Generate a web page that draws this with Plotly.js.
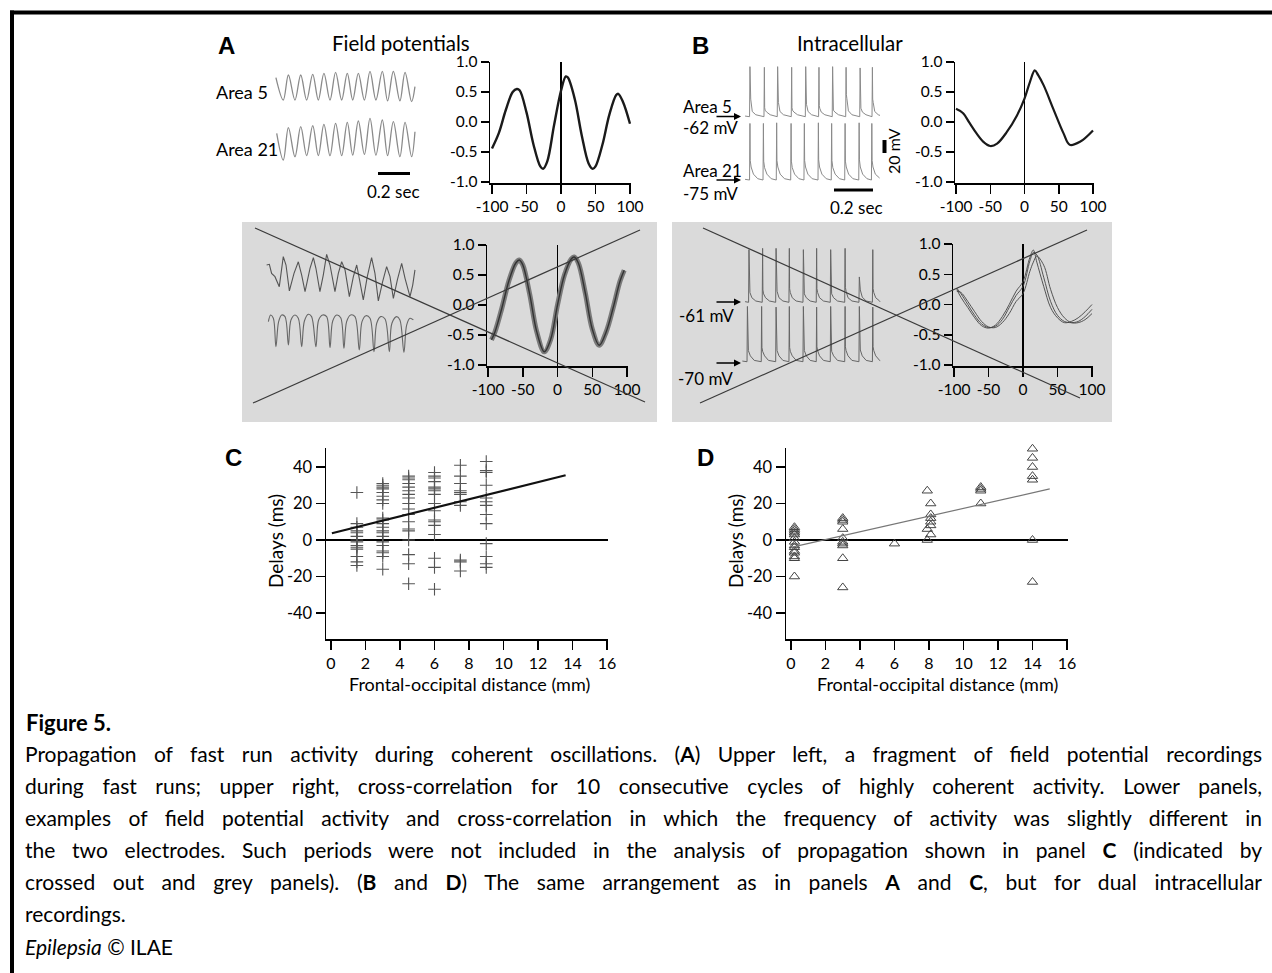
<!DOCTYPE html>
<html><head><meta charset="utf-8">
<script src="https://cdn.plot.ly/plotly-3.0.1.min.js"></script>
<style>html,body{margin:0;padding:0;background:#fff;}#chart{width:1272px;height:973px;}</style>
</head><body><div id="chart"></div>
<script>
// ---------------- DATA ----------------
// A (top): field potentials, time in ms, amplitude in arbitrary units
const fpArea5Time  = [37, 83, 115, 156, 192, 229, 267, 302, 337, 375, 410, 448, 483, 517, 552, 590, 625, 662, 702, 735, 771, 812, 844, 885, 906];
const fpArea5      = [0.68, -1.0, 0.88, -1.0, 0.88, -1.0, 0.93, -1.0, 1.0, -1.0, 1.08, -1.0, 1.0, -1.0, 1.0, -1.0, 1.15, -1.0, 1.15, -1.07, 1.15, -1.07, 1.08, -1.12, 0.0];
const fpArea21Time = [42, 83, 115, 156, 192, 229, 267, 302, 337, 375, 410, 448, 483, 517, 552, 590, 625, 662, 702, 735, 771, 812, 844, 885, 906];
const fpArea21     = [0.53, -1.31, 0.92, -1.08, 0.99, -1.01, 1.06, -1.01, 1.15, -1.01, 1.22, -1.01, 1.29, -0.97, 1.38, -0.92, 1.56, -0.97, 1.45, -1.01, 1.33, -1.08, 1.29, -1.08, 0.64];
// A (top): cross-correlation
const xcA_lag = [-100,-90,-80,-70,-64,-60,-50,-40,-30,-26,-20,-10,0,7,10,20,30,40,46,50,60,70,80,83,90,100];
const xcA_r   = [-0.44,-0.18,0.2,0.5,0.55,0.53,0.16,-0.37,-0.74,-0.78,-0.66,-0.05,0.52,0.76,0.74,0.38,-0.22,-0.69,-0.78,-0.74,-0.38,0.12,0.45,0.47,0.33,-0.03];

// B (top): intracellular, time in ms, membrane potential in mV
const icArea5Time = [26, 49,51,52.5,55,63,81, 123,125,126.5,129,137,155, 191,193,194.5,197,205,223, 263,265,266.5,269,277,295, 335,337,338.5,341,349,367, 403,405,406.5,409,417,435, 473,475,476.5,479,487,505, 542,544,545.5,548,556,574, 614,616,617.5,620,628,646, 677,679,680.5,683,691,709, 718];
const icArea5     = [-61, -62,15,-30,-35,-54,-59, -62,14,-48,-52,-55,-59, -62,15,-35,-40,-54,-59, -62,14,-48,-52,-55,-59, -62,15,-38,-43,-54,-59, -62,14,-45,-49,-55,-59, -62,15,-48,-52,-55,-59, -62,14,-28,-34,-53,-59, -62,13,-45,-49,-55,-59, -62,14,-35,-40,-54,-59, -60];
const icArea21Time = [26, 49,51,52.5,57,69,91, 118,120,121.5,126,138,160, 186,188,189.5,194,206,228, 260,262,263.5,268,280,302, 328,330,331.5,336,348,370, 400,402,403.5,408,420,442, 468,470,471.5,476,488,510, 537,539,540.5,545,557,579, 609,611,612.5,617,629,651, 674,676,677.5,682,694,716];
const icArea21     = [-74, -75,12,-45,-55,-66,-73, -75,12,-46,-56,-66,-73, -75,13,-45,-55,-66,-73, -75,12,-46,-56,-66,-73, -75,12,-45,-55,-66,-73, -75,13,-44,-55,-66,-73, -75,12,-45,-56,-66,-73, -75,12,-46,-55,-66,-73, -75,13,-44,-55,-66,-73, -75,12,-45,-55,-66,-72];
// B (top): cross-correlation
const xcB_lag = [-100,-90,-80,-70,-60,-50,-40,-26,-11,0,8,15,20,28,42,57,66,81,100];
const xcB_r   = [0.22,0.15,-0.02,-0.19,-0.33,-0.40,-0.36,-0.17,0.11,0.39,0.67,0.86,0.78,0.61,0.22,-0.19,-0.38,-0.33,-0.14];

// A (grey, excluded): field potentials
const gFpUpperTime = [29,46,60,81,108,133,150,171,200,227,248,269,300,321,337,362,383,404,425,456,477,498,519,546,571,592,608,633,658,685,706,727,754,779,800,821,846,873,894,925,942,956];
const gFpUpper     = [0.57,0.6,0.21,0.07,-0.36,0.93,0.57,-0.54,0.21,0.71,0.14,-0.57,0.43,0.89,0.43,-0.57,0.14,1.03,0.57,-0.57,0.21,0.71,0.36,-0.79,0.07,0.57,0.0,-0.93,0.07,0.89,0.21,-0.97,-0.14,0.5,0.07,-0.86,-0.07,0.64,0.0,-0.79,-0.29,0.36];
const gFpLowerTime = [40,54,71,87,104,123,144,165,181,206,227,248,265,290,310,337,354,379,404,425,442,467,492,512,529,554,581,608,625,650,675,700,717,742,769,796,812,842,862,887,904,925,946];
const gFpLower     = [0.64,1.0,0.82,-0.73,0.64,1.0,0.91,-0.64,0.73,1.0,0.82,-0.73,0.67,1.04,0.91,-0.73,0.73,1.0,0.91,-0.78,0.67,1.0,0.85,-0.82,0.64,1.0,0.91,-0.91,0.64,0.96,0.82,-1.0,0.55,0.91,0.78,-1.0,0.55,0.91,0.73,-1.04,0.45,0.82,0.73];
const gXcA_lag = [-95,-90,-80,-70,-60,-55,-50,-40,-30,-19,-10,0,10,20,24,30,40,50,60,70,80,90,96];
const gXcA_r   = [-0.58,-0.45,-0.05,0.40,0.70,0.75,0.67,0.18,-0.44,-0.78,-0.58,0.0,0.5,0.77,0.8,0.7,0.2,-0.4,-0.67,-0.45,-0.05,0.4,0.58];

// B (grey, excluded): intracellular
const gIcUpperTime = [26, 44,46,47.5,51,61,81, 114,116,117.5,121,131,151, 183,185,186.5,190,200,220, 251,253,254.5,258,268,288, 323,325,326.5,330,340,360, 391,393,394.5,398,408,428, 463,465,466.5,470,480,500, 537,539,540.5,544,554,574, 610,612,613.5,617,627,647, 679,681,682.5,686,696,716, 718];
const gIcUpper     = [-60, -61,20,-40,-46,-54,-59, -61,22,-42,-48,-54,-59, -61,22,-38,-44,-54,-59, -61,22,-40,-46,-54,-59, -61,20,-42,-48,-54,-59, -61,22,-40,-46,-54,-59, -61,20,-42,-48,-54,-59, -61,22,-38,-44,-54,-59, -61,-22,-36,-42,-53,-59, -61,20,-40,-46,-54,-59, -60];
const gIcLowerTime = [12, 36,38,39.5,43,53,73, 109,111,112.5,116,126,146, 183,185,186.5,190,200,220, 251,253,254.5,258,268,288, 323,325,326.5,330,340,360, 391,393,394.5,398,408,428, 463,465,466.5,470,480,500, 537,539,540.5,544,554,574, 610,612,613.5,617,627,647, 679,681,682.5,686,696,716, 718];
const gIcLower     = [-69, -70,15,-47,-53,-61,-68, -70,15,-48,-54,-61,-68, -70,14,-47,-53,-61,-68, -70,15,-48,-54,-61,-68, -70,15,-47,-53,-61,-68, -70,14,-47,-53,-61,-68, -70,15,-48,-54,-61,-68, -70,15,-47,-53,-61,-68, -70,15,-45,-52,-61,-68, -70,14,-47,-53,-61,-68, -69];
const gXcB_lag = [-96,-90,-80,-70,-60,-50,-40,-30,-20,-10,0,10,15,20,30,40,50,60,70,80,90,100];
const gXcB_r1  = [0.27,0.18,0.0,-0.18,-0.32,-0.38,-0.36,-0.25,-0.05,0.15,0.30,0.72,0.86,0.82,0.45,0.05,-0.18,-0.28,-0.30,-0.28,-0.2,-0.08];
const gXcB_r2  = [0.22,0.2,0.05,-0.12,-0.28,-0.37,-0.38,-0.3,-0.15,0.05,0.18,0.55,0.7,0.8,0.65,0.25,-0.05,-0.22,-0.3,-0.3,-0.25,-0.15];
const gXcB_r3  = [0.25,0.12,-0.05,-0.22,-0.35,-0.39,-0.34,-0.2,0.0,0.22,0.38,0.78,0.9,0.7,0.3,-0.05,-0.22,-0.3,-0.28,-0.22,-0.12,0.0];

// C: delays (ms) by frontal-occipital distance (mm), field potentials
const cDistances = [1.5, 3, 4.5, 6, 7.5, 9];
const cAt1_5 = [26, 9, 7, 5, 4, 2, 0, -1, -3, -4, -5, -9, -12, -14];
const cAt3   = [31, 30, 29, 28, 26, 24, 22, 20, 12, 11, 9, 7, 5, 4, 2, -1, -3, -6, -7, -9, -16];
const cAt4_5 = [35, 34, 33, 31, 29, 27, 25, 23, 20, 17, 14, 10, 6, 5, 0, -8, -13, -24];
const cAt6   = [37, 35, 34, 32, 29, 28, 27, 25, 20, 16, 11, 10, 8, 3, -10, -15, -27];
const cAt7_5 = [41, 35, 31, 27, 26, 25, 21, 19, -11, -12, -17];
const cAt9   = [43, 38, 37, 30, 23, 21, 19, 14, 9, -2, -9, -13, -15];
const cFitX = [0.05, 13.6];
const cFitY = [3.7, 35.5];

// D: delays (ms) by distance (mm), intracellular
const dDistances = [0.2, 3, 6, 7.9, 8.1, 11, 14];
const dAt0_2 = [7, 6, 5, 4, 3, 1, -1, -3, -4, -6, -7, -9, -10, -20];
const dAt3   = [12, 11, 10, 6, 1, -1, -2, -3, -10, -26];
const dAt6   = [-2];
const dAt7_9 = [27, 6, 0];
const dAt8_1 = [20, 14, 12, 10, 8, 3];
const dAt11  = [29, 28, 27, 20];
const dAt14  = [50, 45, 40, 35, 33, 0, -23];
const dFitX = [0.0, 15];
const dFitY = [-4, 28];

// tick labels
const lagTicks = [-100, -50, 0, 50, 100];
const lagTickText = ['-100', '-50', '0', '50', '100'];
const rTicks = [-1, -0.5, 0, 0.5, 1];
const rTickText = ['-1.0', '-0.5', '0.0', '0.5', '1.0'];
const distTicks = [0, 2, 4, 6, 8, 10, 12, 14, 16];
const distTickText = ['0', '2', '4', '6', '8', '10', '12', '14', '16'];
const delayTicks = [-40, -20, 0, 20, 40];
const delayTickText = ['-40', '-20', '0', '20', '40'];

const captionLines = [
  'Propagation of fast run activity during coherent oscillations. (<b>A</b>) Upper left, a fragment of field potential recordings',
  'during fast runs; upper right, cross-correlation for 10 consecutive cycles of highly coherent activity. Lower panels,',
  'examples of field potential activity and cross-correlation in which the frequency of activity was slightly different in',
  'the two electrodes. Such periods were not included in the analysis of propagation shown in panel <b>C</b> (indicated by',
  'crossed out and grey panels). (<b>B</b> and <b>D</b>) The same arrangement as in panels <b>A</b> and <b>C</b>, but for dual intracellular',
  'recordings.',
  '<i>Epilepsia</i> © ILAE'
];

// ---------------- LAYOUT HELPERS ----------------
const W = 1272, H = 973;
const X = p => p / W;
const Y = p => 1 - p / H;
const lin = (p0, v0, p1, v1) => p => v0 + (p - p0) * (v1 - v0) / (p1 - p0);
function xAx(cal, d0, d1, extra) { const f = lin(...cal); return Object.assign({domain: [X(d0), X(d1)], range: [f(d0), f(d1)]}, extra || {}); }
function yAx(cal, d0, d1, extra) { const f = lin(...cal); return Object.assign({domain: [Y(d1), Y(d0)], range: [f(d1), f(d0)]}, extra || {}); }
const hidden = {visible: false, fixedrange: true};
const GF = 'Lato, "Open Sans", sans-serif';
const tickFont = {family: GF, size: 15.5, color: '#000'};
const axBase = {showline: true, linecolor: '#000', linewidth: 1.5, ticks: 'outside', tickwidth: 1.5, tickcolor: '#000',
  showgrid: false, zeroline: false, tickfont: tickFont, tickmode: 'array', fixedrange: true};
const lagAx = Object.assign({}, axBase, {tickvals: lagTicks, ticktext: lagTickText, ticklen: 9, zeroline: true, zerolinecolor: '#000', zerolinewidth: 1.5});
const rAx = Object.assign({}, axBase, {tickvals: rTicks, ticktext: rTickText, ticklen: 8});
const distAx = Object.assign({}, axBase, {tickvals: distTicks, ticktext: distTickText, ticklen: 9, tickfont: {family: GF, size: 16, color: '#000'}});
const delayAx = Object.assign({}, axBase, {tickvals: delayTicks, ticktext: delayTickText, ticklen: 9, zeroline: true, zerolinecolor: '#000', zerolinewidth: 1.6, tickfont: {family: GF, size: 16.5, color: '#000'}});

const layout = {
  width: W, height: H, margin: {l: 0, r: 0, t: 0, b: 0},
  paper_bgcolor: '#fff', plot_bgcolor: 'rgba(0,0,0,0)', showlegend: false,
  // A top traces
  xaxis:  xAx([270, 0, 302, 200], 265, 425, hidden),
  yaxis:  yAx([86.7, 0, 73.4, 1], 62, 110, hidden),
  yaxis2: yAx([141, 0, 126.5, 1], 112, 182, hidden),
  // A top cross-correlation
  xaxis2: xAx([492, -100, 630, 100], 490, 631, Object.assign({}, lagAx, {anchor: 'y3'})),
  yaxis3: yAx([182, -1, 62, 1], 62, 183, Object.assign({}, rAx, {anchor: 'x2'})),
  // B top traces
  xaxis3: xAx([740, 0, 779, 200], 738, 890, hidden),
  yaxis4: yAx([116.7, -62, 103.7, -42], 60, 122, hidden),
  yaxis5: yAx([180, -75, 167, -55], 118, 200, hidden),
  // B top cross-correlation
  xaxis4: xAx([956, -100, 1093, 100], 955, 1094, Object.assign({}, lagAx, {anchor: 'y6'})),
  yaxis6: yAx([182, -1, 62, 1], 62, 183, Object.assign({}, rAx, {anchor: 'x4'})),
  // A grey traces
  xaxis5: xAx([262, 0, 294, 200], 255, 425, hidden),
  yaxis7: yAx([278.3, 0, 255, 1], 245, 308, hidden),
  yaxis8: yAx([333.3, 0, 315, 1], 305, 362, hidden),
  // A grey cross-correlation
  xaxis6: xAx([488, -100, 627, 100], 487, 628, Object.assign({}, lagAx, {anchor: 'y9'})),
  yaxis9: yAx([365, -1, 245, 1], 245, 366, Object.assign({}, rAx, {anchor: 'x6'})),
  // B grey traces
  xaxis7: xAx([740, 0, 779, 200], 738, 890, hidden),
  yaxis10: yAx([302.3, -61, 289.3, -41], 240, 310, hidden),
  yaxis11: yAx([361.7, -70, 348.7, -50], 300, 370, hidden),
  // B grey cross-correlation
  xaxis8: xAx([954, -100, 1092, 100], 953, 1093, Object.assign({}, lagAx, {anchor: 'y12'})),
  yaxis12: yAx([365, -1, 244, 1], 244, 366, Object.assign({}, rAx, {anchor: 'x8'})),
  // C
  xaxis9: xAx([331, 0, 607, 16], 326, 608, Object.assign({}, distAx, {anchor: 'y13'})),
  yaxis13: yAx([540, 0, 467, 40], 448, 639, Object.assign({}, delayAx, {anchor: 'x9'})),
  // D
  xaxis10: xAx([791, 0, 1067, 16], 786, 1068, Object.assign({}, distAx, {anchor: 'y14'})),
  yaxis14: yAx([540, 0, 467, 40], 448, 639, Object.assign({}, delayAx, {anchor: 'x10'})),
  shapes: [], annotations: []
};

// shapes: frame, grey panels, crossing lines, scale bars
const S = layout.shapes;
S.push({type: 'line', xref: 'paper', yref: 'paper', x0: X(10), x1: X(1272), y0: Y(12.5), y1: Y(12.5), line: {color: '#000', width: 4}});
S.push({type: 'line', xref: 'paper', yref: 'paper', x0: X(12), x1: X(12), y0: Y(10.5), y1: Y(973), line: {color: '#000', width: 4}});
S.push({type: 'rect', xref: 'paper', yref: 'paper', x0: X(242), x1: X(657), y0: Y(422), y1: Y(222), fillcolor: '#dadada', line: {width: 0}, layer: 'below'});
S.push({type: 'rect', xref: 'paper', yref: 'paper', x0: X(672), x1: X(1112), y0: Y(422), y1: Y(222), fillcolor: '#dadada', line: {width: 0}, layer: 'below'});
const crossLine = (x0, y0, x1, y1) => ({type: 'line', xref: 'paper', yref: 'paper', x0: X(x0), y0: Y(y0), x1: X(x1), y1: Y(y1), line: {color: '#3a3a3a', width: 1.2}, layer: 'above'});
S.push(crossLine(255, 228, 645, 402), crossLine(253, 403, 640, 230));
S.push(crossLine(703, 228, 1080, 398), crossLine(700, 403, 1087, 230));
// 0.2 s bars (200 ms in the trace time axes), 20 mV bar
S.push({type: 'line', xref: 'x', yref: 'paper', x0: 675, x1: 875, y0: Y(173.5), y1: Y(173.5), line: {color: '#000', width: 3}});
S.push({type: 'line', xref: 'x3', yref: 'paper', x0: 482, x1: 682, y0: Y(190), y1: Y(190), line: {color: '#000', width: 3}});
S.push({type: 'line', xref: 'paper', yref: 'y5', x0: X(884.5), x1: X(884.5), y0: -33.5, y1: -13.5, line: {color: '#000', width: 4}});

// annotations
const A = layout.annotations;
const txt = (t, px, py, opt) => A.push(Object.assign({text: t, x: X(px), y: Y(py), xref: 'paper', yref: 'paper', showarrow: false,
  xanchor: 'center', yanchor: 'middle', font: {family: GF, size: 17, color: '#000'}}, opt || {}));
const bold = {family: '"Liberation Sans", Arial, sans-serif', size: 24, color: '#000', weight: 'bold'};
const f20 = {family: GF, size: 20.5, color: '#000'};
const f19 = {family: GF, size: 19, color: '#000'};
const f18 = {family: GF, size: 18, color: '#000'};
txt('<b>A</b>', 227, 46, {font: bold});
txt('<b>B</b>', 700, 46, {font: bold});
txt('<b>C</b>', 234, 457, {font: bold});
txt('<b>D</b>', 705, 457, {font: bold});
txt('Field potentials', 401, 43, {font: f20});
txt('Intracellular', 850, 43, {font: f20});
txt('Area 5', 214, 92, {xanchor: 'left', font: f18});
txt('Area 21', 214, 149, {xanchor: 'left', font: f18});
txt('0.2 sec', 393, 191);
txt('Area 5', 681, 106, {xanchor: 'left'});
txt('-62 mV', 681, 128, {xanchor: 'left'});
txt('Area 21', 681, 170, {xanchor: 'left'});
txt('-75 mV', 681, 193, {xanchor: 'left'});
txt('20 mV', 894, 151, {textangle: -90, font: {family: GF, size: 16, color: '#000'}});
txt('0.2 sec', 856, 207);
txt('-61 mV', 677, 315, {xanchor: 'left'});
txt('-70 mV', 676, 378, {xanchor: 'left'});
txt('Delays (ms)', 275, 541, {textangle: -90, font: f19});
txt('Delays (ms)', 735, 541, {textangle: -90, font: f19});
txt('Frontal-occipital distance (mm)', 469, 684, {font: f18});
txt('Frontal-occipital distance (mm)', 937, 684, {font: f18});
const arrow = (py) => A.push({text: '', x: X(741), y: Y(py), xref: 'paper', yref: 'paper', showarrow: true, ax: -26, ay: 0,
  arrowhead: 2, arrowsize: 1, arrowwidth: 1.4, arrowcolor: '#000', standoff: 0});
arrow(116.5); arrow(180); arrow(302); arrow(363);
// caption
txt('<b>Figure 5.</b>', 24, 722, {xanchor: 'left', align: 'left', font: {family: GF, size: 22, color: '#000'}});
const capStart = A.length;
const capY = [753, 785.5, 817.5, 849.5, 881.5, 913.5, 946];
captionLines.forEach((t, i) => txt(t, 23, capY[i], {xanchor: 'left', align: 'left', font: {family: GF, size: 21, color: '#000'}}));

// ---------------- TRACES ----------------
const line = (x, y, xa, ya, color, width, shape) => ({type: 'scatter', mode: 'lines', x, y, xaxis: xa, yaxis: ya,
  line: {color, width, shape: shape || 'linear', smoothing: 1}, hoverinfo: 'skip'});
const traces = [
  line(fpArea5Time, fpArea5, 'x', 'y', '#8a8a8a', 1.3, 'spline'),
  line(fpArea21Time, fpArea21, 'x', 'y2', '#8a8a8a', 1.3, 'spline'),
  line(xcA_lag, xcA_r, 'x2', 'y3', '#1a1a1a', 2.4, 'spline'),
  line(icArea5Time, icArea5, 'x3', 'y4', '#8a8a8a', 1),
  line(icArea21Time, icArea21, 'x3', 'y5', '#8a8a8a', 1),
  line(xcB_lag, xcB_r, 'x4', 'y6', '#1a1a1a', 2.2, 'spline'),
  line(gFpUpperTime, gFpUpper, 'x5', 'y7', '#555', 1.1),
  line(gFpLowerTime, gFpLower, 'x5', 'y8', '#666', 1.1, 'spline'),
  line(gXcA_lag, gXcA_r, 'x6', 'y9', '#7a7a7a', 5, 'spline'),
  line(gXcA_lag, gXcA_r, 'x6', 'y9', '#333', 1.4, 'spline'),
  line(gIcUpperTime, gIcUpper, 'x7', 'y10', '#666', 1),
  line(gIcLowerTime, gIcLower, 'x7', 'y11', '#666', 1),
  line(gXcB_lag, gXcB_r1, 'x8', 'y12', '#444', 0.9, 'spline'),
  line(gXcB_lag, gXcB_r2, 'x8', 'y12', '#444', 0.9, 'spline'),
  line(gXcB_lag, gXcB_r3, 'x8', 'y12', '#444', 0.9, 'spline')
];
const flatten = (dists, cols) => {
  const xs = [], ys = [];
  cols.forEach((col, i) => col.forEach(v => { xs.push(dists[i]); ys.push(v); }));
  return {xs, ys};
};
const cPts = flatten(cDistances, [cAt1_5, cAt3, cAt4_5, cAt6, cAt7_5, cAt9]);
const dPts = flatten(dDistances, [dAt0_2, dAt3, dAt6, dAt7_9, dAt8_1, dAt11, dAt14]);
traces.push({type: 'scatter', mode: 'markers', x: cPts.xs, y: cPts.ys, xaxis: 'x9', yaxis: 'y13', hoverinfo: 'skip', cliponaxis: false,
  marker: {symbol: 'cross-thin-open', size: 9, color: '#555', line: {color: '#555', width: 1.1}}});
traces.push(line(cFitX, cFitY, 'x9', 'y13', '#111', 2.2));
traces.push({type: 'scatter', mode: 'markers', x: dPts.xs, y: dPts.ys, xaxis: 'x10', yaxis: 'y14', hoverinfo: 'skip', cliponaxis: false,
  marker: {symbol: 'triangle-up-open', size: 9, color: '#444', line: {color: '#444', width: 1}}});
traces.push(line(dFitX, dFitY, 'x10', 'y14', '#777', 1.2));

const gd = document.getElementById('chart');
Plotly.newPlot(gd, traces, layout, {staticPlot: true, displayModeBar: false}).then(() => {
  // justify the full caption lines (lines 1-5) to the text block width
  const target = 1262 - 25;
  for (let i = 0; i < 5; i++) {
    const el = gd.querySelector('g.annotation[data-index="' + (capStart + i) + '"] text.annotation-text');
    if (!el) continue;
    const w = el.getComputedTextLength();
    const n = (el.textContent.match(/ /g) || []).length;
    if (n > 0) el.style.wordSpacing = ((target - w) / n) + 'px';
  }
});
</script></body></html>
